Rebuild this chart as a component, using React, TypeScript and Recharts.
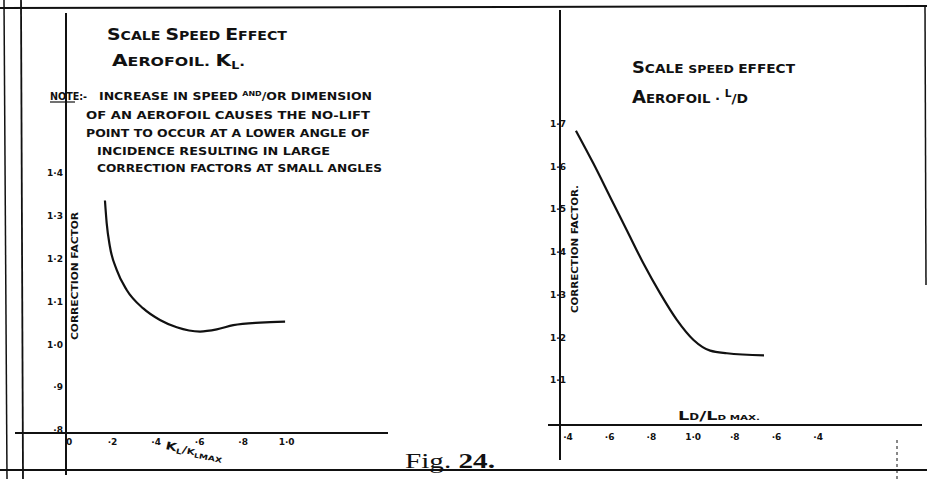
import React from "react";
import { LineChart, Line, XAxis, YAxis } from "recharts";

// ---- Left panel: Scale speed effect, aerofoil K_L ----
const klRatio = [0.165, 0.173, 0.188, 0.219, 0.265, 0.341, 0.418, 0.495, 0.602, 0.679, 0.755, 0.878, 0.993];
const klFactor = [1.336, 1.283, 1.228, 1.174, 1.127, 1.084, 1.057, 1.04, 1.03, 1.035, 1.045, 1.051, 1.053];
const klXTicks = [0, 0.2, 0.4, 0.6, 0.8, 1.0];
const klXTickLabels = ["0", "·2", "·4", "·6", "·8", "1·0"];
const klYTicks = [0.8, 0.9, 1.0, 1.1, 1.2, 1.3, 1.4];
const klYTickLabels = ["·8", "·9", "1·0", "1·1", "1·2", "1·3", "1·4"];

// ---- Right panel: Scale speed effect, aerofoil L/D (folded x axis) ----
const ldPosition = [0.19, 0.61, 1.01, 1.41, 1.81, 2.21, 2.61, 3.01, 3.41, 3.81, 4.7];
const ldFactor = [1.684, 1.607, 1.529, 1.451, 1.373, 1.303, 1.241, 1.194, 1.169, 1.163, 1.158];
const ldXTicks = [0, 1, 2, 3, 4, 5, 6];
const ldXTickLabels = ["·4", "·6", "·8", "1·0", "·8", "·6", "·4"];
const ldYTicks = [1.1, 1.2, 1.3, 1.4, 1.5, 1.6, 1.7];
const ldYTickLabels = ["1·1", "1·2", "1·3", "1·4", "1·5", "1·6", "1·7"];

const INK = "#111";
const HAND = "'DejaVu Sans', sans-serif";

const labelFor = (ticks: number[], labels: string[]) => (v: number) => {
  let best = 0;
  for (let i = 1; i < ticks.length; i++) {
    if (Math.abs(ticks[i] - v) < Math.abs(ticks[best] - v)) best = i;
  }
  return labels[best];
};

const tickStyle = { fill: INK, fontSize: 9, fontWeight: 700, fontFamily: HAND };

export default function App() {
  const klData = klRatio.map((x, i) => ({ x, y: klFactor[i] }));
  const ldData = ldPosition.map((x, i) => ({ x, y: ldFactor[i] }));

  const t = { fill: INK, fontFamily: HAND, fontWeight: 700 } as const;

  return (
    <div style={{ position: "absolute", left: 0, top: 0, width: 927, height: 479, background: "#fff", overflow: "hidden" }}>
      <div style={{ position: "absolute", left: 0, top: 0 }}>
        <LineChart width={400} height={479} data={klData} margin={{ top: 13, right: 12, bottom: 16, left: 36 }}>
          <XAxis
            dataKey="x"
            type="number"
            domain={[-0.014, 1.466]}
            ticks={klXTicks}
            interval={0}
            allowDataOverflow
            tickFormatter={labelFor(klXTicks, klXTickLabels)}
            axisLine={{ stroke: INK, strokeWidth: 2 }}
            tickLine={false}
            tickSize={0}
            tickMargin={6}
            height={30}
            tick={tickStyle}
          />
          <YAxis
            type="number"
            domain={[0.793, 1.774]}
            ticks={klYTicks}
            interval={0}
            allowDataOverflow
            tickFormatter={labelFor(klYTicks, klYTickLabels)}
            axisLine={{ stroke: INK, strokeWidth: 2 }}
            tickLine={false}
            tickSize={0}
            tickMargin={3}
            width={30}
            tick={tickStyle}
          />
          <Line dataKey="y" type="monotone" stroke={INK} strokeWidth={2.2} dot={false} isAnimationActive={false} />
        </LineChart>
      </div>

      <div style={{ position: "absolute", left: 460, top: 0 }}>
        <LineChart width={467} height={479} data={ldData} margin={{ top: 10, right: 5, bottom: 24, left: 70 }}>
          <XAxis
            dataKey="x"
            type="number"
            domain={[-0.192, 8.489]}
            ticks={ldXTicks}
            interval={0}
            allowDataOverflow
            tickFormatter={labelFor(ldXTicks, ldXTickLabels)}
            axisLine={{ stroke: INK, strokeWidth: 2 }}
            tickLine={false}
            tickSize={0}
            tickMargin={9}
            height={30}
            tick={tickStyle}
          />
          <YAxis
            type="number"
            domain={[0.995, 1.9665]}
            ticks={ldYTicks}
            interval={0}
            allowDataOverflow
            tickFormatter={labelFor(ldYTicks, ldYTickLabels)}
            axisLine={{ stroke: INK, strokeWidth: 2 }}
            tickLine={false}
            tickSize={0}
            tickMargin={-6}
            width={30}
            tick={tickStyle}
          />
          <Line dataKey="y" type="monotone" stroke={INK} strokeWidth={2.2} dot={false} isAnimationActive={false} />
        </LineChart>
      </div>

      <svg width={927} height={479} style={{ position: "absolute", left: 0, top: 0, pointerEvents: "none" }}>
        {/* sheet borders */}
        <line x1={0} y1={8} x2={927} y2={6} stroke={INK} strokeWidth={2} />
        <line x1={0} y1={470} x2={927} y2={470} stroke={INK} strokeWidth={2} />
        <line x1={4} y1={0} x2={7} y2={479} stroke={INK} strokeWidth={1.5} />
        <line x1={21} y1={0} x2={23} y2={479} stroke={INK} strokeWidth={1.8} />
        <line x1={925} y1={5} x2={926} y2={285} stroke={INK} strokeWidth={1.5} />
        <line x1={897} y1={440} x2={897} y2={479} stroke={INK} strokeWidth={1} strokeDasharray="3 3" />
        {/* axis extensions beyond plot areas */}
        <line x1={15} y1={433} x2={66} y2={433} stroke={INK} strokeWidth={2} />
        <line x1={66} y1={433} x2={66} y2={475} stroke={INK} strokeWidth={2} />
        <line x1={548} y1={425} x2={560} y2={425} stroke={INK} strokeWidth={2} />
        <line x1={560} y1={425} x2={560} y2={460} stroke={INK} strokeWidth={2} />

        {/* left titles */}
        <text x={107} y={40} textLength={180} lengthAdjust="spacingAndGlyphs" {...t}>
          <tspan fontSize={16}>S</tspan><tspan fontSize={12}>CALE </tspan>
          <tspan fontSize={16}>S</tspan><tspan fontSize={12}>PEED </tspan>
          <tspan fontSize={16}>E</tspan><tspan fontSize={12}>FFECT</tspan>
        </text>
        <text x={112} y={66} textLength={133} lengthAdjust="spacingAndGlyphs" {...t}>
          <tspan fontSize={16}>A</tspan><tspan fontSize={12.5}>EROFOIL.  </tspan>
          <tspan fontSize={16}>K</tspan><tspan fontSize={10} dy={3}>L</tspan><tspan fontSize={12} dy={-3}>.</tspan>
        </text>

        {/* note */}
        <text x={50} y={100} textLength={37} lengthAdjust="spacingAndGlyphs" fontSize={11} {...t}>NOTE:-</text>
        <line x1={50} y1={102} x2={75} y2={102} stroke={INK} strokeWidth={1.2} />
        <text x={99} y={100} textLength={273} lengthAdjust="spacingAndGlyphs" fontSize={11} {...t}>
          INCREASE IN SPEED <tspan fontSize={7} dy={-4}>AND</tspan><tspan dy={4}>/OR  DIMENSION</tspan>
        </text>
        <text x={86} y={119} textLength={284} lengthAdjust="spacingAndGlyphs" fontSize={11} {...t}>OF AN  AEROFOIL  CAUSES  THE  NO-LIFT</text>
        <text x={86} y={137} textLength={284} lengthAdjust="spacingAndGlyphs" fontSize={11} {...t}>POINT TO OCCUR AT A LOWER ANGLE OF</text>
        <text x={97} y={155} textLength={233} lengthAdjust="spacingAndGlyphs" fontSize={11} {...t}>INCIDENCE  RESULTING IN LARGE</text>
        <text x={97} y={172} textLength={285} lengthAdjust="spacingAndGlyphs" fontSize={11} {...t}>CORRECTION  FACTORS AT SMALL ANGLES</text>

        {/* left axis titles */}
        <text x={0} y={0} transform="translate(78 276) rotate(-90)" textAnchor="middle" textLength={128} lengthAdjust="spacingAndGlyphs" fontSize={8.5} {...t}>
          CORRECTION  FACTOR
        </text>
        <text x={165} y={449} transform="rotate(12 165 449)" textLength={58} lengthAdjust="spacingAndGlyphs" {...t}>
          <tspan fontSize={11}>K</tspan><tspan fontSize={7} dy={2}>L</tspan><tspan fontSize={10} dy={-2}>/</tspan>
          <tspan fontSize={8}>K</tspan><tspan fontSize={6} dy={2}>L</tspan><tspan fontSize={7}>MAX</tspan>
        </text>

        {/* right titles */}
        <text x={632} y={73} textLength={163} lengthAdjust="spacingAndGlyphs" {...t}>
          <tspan fontSize={15}>S</tspan><tspan fontSize={11.5}>CALE </tspan>
          <tspan fontSize={10.5}>SPEED </tspan>
          <tspan fontSize={11.5}>EFFECT</tspan>
        </text>
        <text x={632} y={103} textLength={116} lengthAdjust="spacingAndGlyphs" {...t}>
          <tspan fontSize={17}>A</tspan><tspan fontSize={12.5}>EROFOIL · </tspan>
          <tspan fontSize={10} dy={-6}>L</tspan><tspan fontSize={13} dy={6}>/D</tspan>
        </text>

        {/* right axis titles */}
        <text x={0} y={0} transform="translate(578 249) rotate(-90)" textAnchor="middle" textLength={128} lengthAdjust="spacingAndGlyphs" fontSize={8.5} {...t}>
          CORRECTION  FACTOR.
        </text>
        <text x={678} y={420} textLength={82} lengthAdjust="spacingAndGlyphs" {...t}>
          <tspan fontSize={12}>L</tspan><tspan fontSize={8}>D</tspan><tspan fontSize={13}>/</tspan>
          <tspan fontSize={12}>L</tspan><tspan fontSize={7}>D</tspan><tspan fontSize={7}> MAX.</tspan>
        </text>

        {/* figure caption */}
        <text x={405} y={468} textLength={90} lengthAdjust="spacingAndGlyphs" fontSize={22} fill={INK} fontFamily="'Liberation Serif', serif">
          Fig. <tspan fontWeight={700}>24.</tspan>
        </text>
      </svg>
    </div>
  );
}
